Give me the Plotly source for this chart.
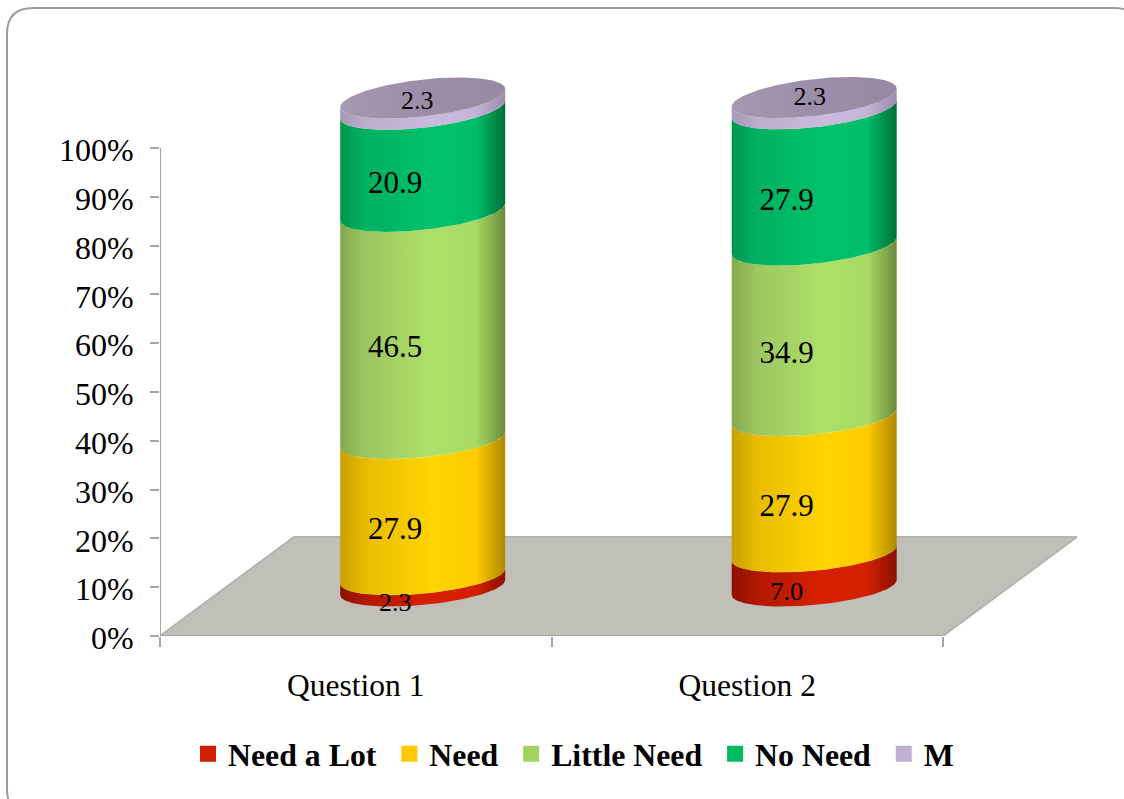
import numpy as np
import plotly.graph_objects as go

# Stacked shares per question, bottom of the cylinder upward
questions = ["Question 1", "Question 2"]
series_names = ["Need a Lot", "Need", "Little Need", "No Need", "M"]
need_a_lot = [2.3, 7.0]
need = [27.9, 27.9]
little_need = [46.5, 34.9]
no_need = [20.9, 27.9]
missing = [2.3, 2.3]
y_ticks = [0, 10, 20, 30, 40, 50, 60, 70, 80, 90, 100]

series_values = [need_a_lot, need, little_need, no_need, missing]
legend_colors = ["#CE2000", "#FFC800", "#A0D45F", "#00B960", "#BFB0D3"]
side_shades = [
    ["#8E1000", "#B01800", "#D82000", "#D42000", "#8A1000"],
    ["#C8A000", "#E8BC00", "#FFD400", "#FFCC00", "#AE8800"],
    ["#84A850", "#9CC660", "#AEE068", "#A8DA64", "#6A8A3C"],
    ["#009650", "#00B060", "#00C26A", "#00BE68", "#007038"],
    ["#A898B8", "#BCACCC", "#CABADE", "#C4B4D8", "#9A8CAC"],
]
cap_shades = ["#A598B0", "#9C8EA8", "#9689A2"]

FONT = "Liberation Serif, Times New Roman, serif"
PX_X = 391.5     # pixels per x-axis unit
PX_Y = 4.88      # pixels per percentage point
WIDTH, HEIGHT = 1124, 799
LEFT, RIGHT, TOP, BOTTOM = 160, 24, 60, 163

# Oblique projection of the chart's depth
DEPTH_X = 0.171
DEPTH_Y = 9.94
DEPTH_STRETCH = 1.004
RADIUS_X = 82.5 / PX_X


def ellipse(center_x, level, t):
    """Points of the tilted ring at a stacked level, in axis units."""
    tilt = (7.5 + 1.5 * level / 100) / PX_Y
    minor = (17.5 + 1.0 * level / 100) / PX_Y
    x = center_x + RADIUS_X * np.cos(t)
    y = level * DEPTH_STRETCH + DEPTH_Y + tilt * np.cos(t) + minor * np.sin(t)
    return x, y


def gradient(colors):
    stops = [0, 0.15, 0.56, 0.82, 1]
    return dict(type="horizontal", colorscale=list(zip(stops, colors)))


def paper(px, py):
    return (px - LEFT) / (WIDTH - LEFT - RIGHT), 1 - (py - TOP) / (HEIGHT - TOP - BOTTOM)


def frame_path():
    x0, y0, x1, y1, r = 7, 8, 1140, 815, 26
    pts = [
        ("M", (x0 + r, y0)), ("L", (x1 - r, y0)), ("Q", (x1, y0), (x1, y0 + r)),
        ("L", (x1, y1 - r)), ("Q", (x1, y1), (x1 - r, y1)), ("L", (x0 + r, y1)),
        ("Q", (x0, y1), (x0, y1 - r)), ("L", (x0, y0 + r)), ("Q", (x0, y0), (x0 + r, y0)),
    ]
    parts = []
    for cmd, *coords in pts:
        text = " ".join("{:.5f},{:.5f}".format(*paper(*c)) for c in coords)
        parts.append(cmd + " " + text)
    return " ".join(parts) + " Z"


fig = go.Figure()

# Floor of the chart
axis_span = len(questions)
floor_x = [0, axis_span, axis_span + 2 * DEPTH_X, 2 * DEPTH_X, 0]
floor_y = [0, 0, 2 * DEPTH_Y + 0.4, 2 * DEPTH_Y + 0.4, 0]
fig.add_trace(go.Scatter(
    x=floor_x, y=floor_y, mode="lines", fill="toself", fillcolor="#C0C0B8",
    line=dict(color="#B4B4B0", width=2), showlegend=False, hoverinfo="skip",
))

# Cylinder sides and caps
t_front = np.linspace(np.pi, 2 * np.pi, 90)
t_full = np.linspace(0, 2 * np.pi, 180)
for q, question in enumerate(questions):
    center_x = q + 0.5 + DEPTH_X
    level = 0.0
    for s, values in enumerate(series_values):
        next_level = level + values[q]
        low_x, low_y = ellipse(center_x, level, t_front)
        high_x, high_y = ellipse(center_x, next_level, t_front)
        fig.add_trace(go.Scatter(
            x=np.concatenate([low_x, high_x[::-1], low_x[:1]]),
            y=np.concatenate([low_y, high_y[::-1], low_y[:1]]),
            mode="lines", line=dict(width=0), fill="toself",
            fillgradient=gradient(side_shades[s]),
            showlegend=False, hoverinfo="skip",
        ))
        level = next_level
    cap_x, cap_y = ellipse(center_x, level, t_full)
    fig.add_trace(go.Scatter(
        x=cap_x, y=cap_y, mode="lines", line=dict(width=0), fill="toself",
        fillgradient=dict(type="horizontal",
                          colorscale=list(zip([0, 0.5, 1], cap_shades))),
        showlegend=False, hoverinfo="skip",
    ))

# Value labels on the front of each band, the last one on the cap
for q, question in enumerate(questions):
    center_x = q + 0.5 + DEPTH_X
    level = 0.0
    for s, values in enumerate(series_values):
        value = values[q]
        is_cap = s == len(series_values) - 1
        mid = level + value / 2
        if is_cap:
            label_x = center_x - (5.5 - q) / PX_X
            label_y = level + value + DEPTH_Y - (2.5 - 3 * q) / PX_Y
        else:
            label_x = center_x - 27.5 / PX_X
            label_y = mid + DEPTH_Y - 23 / PX_Y
        fig.add_trace(go.Scatter(
            x=[label_x], y=[label_y], mode="text", text=[f"{value:.1f}"],
            textposition="middle center", cliponaxis=False,
            textfont=dict(family=FONT, size=26 if value < 10 else 31, color="#000000"),
            showlegend=False, hoverinfo="skip",
        ))
        level += value

# Axis lines stop at the chart's own extent
for line_x, line_y in [([0, axis_span], [0, 0]), ([0, 0], [0, 100])]:
    fig.add_trace(go.Scatter(
        x=line_x, y=line_y, mode="lines", cliponaxis=False,
        line=dict(color="#A6A6A6", width=2), showlegend=False, hoverinfo="skip",
    ))

# Legend entries, a no-break space widens the gap between them
for name, color in zip(series_names, legend_colors):
    fig.add_trace(go.Scatter(
        x=[None], y=[None], mode="markers", name=name + "\u00a0",
        marker=dict(symbol="square", size=16, color=color),
    ))

fig.update_layout(
    width=WIDTH, height=HEIGHT, autosize=False,
    margin=dict(l=LEFT, r=RIGHT, t=TOP, b=BOTTOM),
    paper_bgcolor="#FFFFFF", plot_bgcolor="rgba(0,0,0,0)",
    font=dict(family=FONT, color="#000000"),
    xaxis=dict(
        range=[0, (WIDTH - LEFT - RIGHT) / PX_X],
        tickvals=[i + 0.5 for i in range(len(questions))], ticktext=questions,
        ticks="", showgrid=False, zeroline=False, showline=False,
        tickfont=dict(family=FONT, size=31.5, color="#000000"),
        ticklabelstandoff=27,
        minor=dict(tickvals=list(range(len(questions) + 1)), ticks="outside",
                   ticklen=10, tickwidth=2, tickcolor="#A6A6A6", showgrid=False),
    ),
    yaxis=dict(
        range=[0, (HEIGHT - TOP - BOTTOM) / PX_Y],
        tickvals=y_ticks, ticktext=[f"{v}%" for v in y_ticks],
        ticks="outside", ticklen=9, tickwidth=2, tickcolor="#A6A6A6",
        showgrid=False, zeroline=False, showline=False,
        tickfont=dict(family=FONT, size=32, color="#000000"),
        ticklabelstandoff=10, ticklabelshift=2,
    ),
    legend=dict(
        orientation="h", x=188 / WIDTH, xanchor="left", xref="container",
        y=1 - 754 / HEIGHT, yanchor="middle", yref="container",
        font=dict(family=FONT, size=31.8, color="#000000", weight="bold"),
        itemwidth=30, bgcolor="rgba(0,0,0,0)",
    ),
    shapes=[dict(type="path", xref="paper", yref="paper", path=frame_path(),
                 line=dict(color="#9C9C9C", width=2), fillcolor="rgba(0,0,0,0)",
                 layer="below")],
)

fig.write_html("out.html")
